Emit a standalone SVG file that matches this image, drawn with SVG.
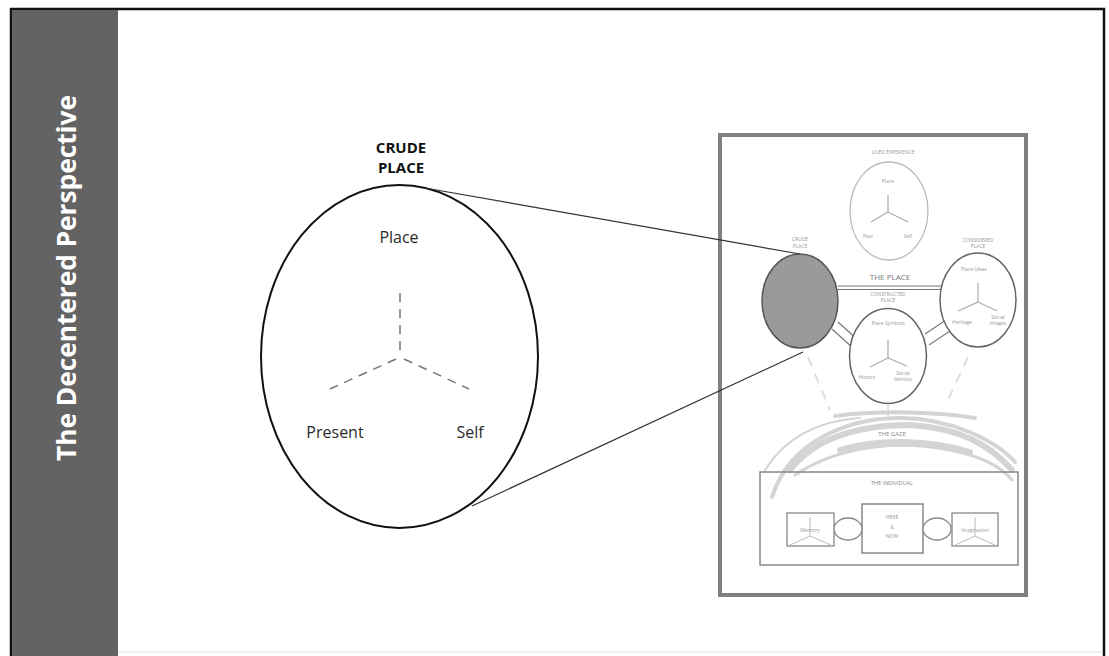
<svg xmlns="http://www.w3.org/2000/svg" width="1109" height="656" viewBox="0 0 1109 656">
<style>
.t{font-family:"Open Sans","Liberation Sans",sans-serif}
.big{font-size:16px;fill:#2a2a2a}
.tiny{font-size:5px;fill:#999;text-anchor:middle}
.tl{stroke:#aaa;stroke-width:1.2;fill:none}
.ov{fill:#fff;stroke:#666;stroke-width:1.5}
.faint{stroke:#ddd;stroke-width:2;fill:none;stroke-dasharray:10,8}
.gaze{stroke:#d4d4d4;fill:none;stroke-linecap:round}
</style>
<rect x="0" y="0" width="1109" height="656" fill="#fff"/>
<g id="frame">
<rect x="11" y="9" width="1093" height="660" fill="#fff" stroke="#111" stroke-width="2.5"/>
<rect x="12" y="10" width="106" height="646" fill="#636363"/>
<line x1="118" y1="652" x2="1103" y2="652" stroke="#ddd" stroke-width="1"/>
<text class="t" x="0" y="0" transform="translate(76,278) rotate(-90)" text-anchor="middle" font-size="27" font-weight="bold" fill="#fff" textLength="366" lengthAdjust="spacingAndGlyphs">The Decentered Perspective</text>
</g>
<g id="crude-place-zoom">
<ellipse cx="399.5" cy="356.5" rx="138.5" ry="171.5" fill="#fff" stroke="#111" stroke-width="2"/>
<text class="t" x="401" y="153" text-anchor="middle" font-size="15" font-weight="bold" fill="#111">CRUDE</text>
<text class="t" x="401" y="173" text-anchor="middle" font-size="15" font-weight="bold" fill="#111">PLACE</text>
<text class="t big" x="399" y="243" text-anchor="middle">Place</text>
<text class="t big" x="335" y="438" text-anchor="middle">Present</text>
<text class="t big" x="470" y="438" text-anchor="middle">Self</text>
<g stroke="#777" stroke-width="1.5" stroke-dasharray="9,7" fill="none">
<line x1="400" y1="293" x2="400" y2="356"/>
<line x1="396" y1="359" x2="330" y2="389"/>
<line x1="404" y1="359" x2="469" y2="389"/>
</g>
</g>
<g id="overview">
<rect x="720" y="135" width="306" height="460" fill="#fff" stroke="#808080" stroke-width="4"/>
<g id="gaze">
<path class="gaze" d="M772 497 C790 440 850 418 900 418 C950 418 995 440 1015 462" stroke-width="4"/>
<path class="gaze" d="M790 470 C820 432 870 425 910 425 C960 428 990 445 1012 470" stroke-width="6"/>
<path class="gaze" d="M835 416 C880 410 940 412 975 418" stroke-width="4"/>
<path class="gaze" d="M795 475 C840 445 900 440 950 450 C980 456 1000 465 1012 480" stroke-width="3"/>
<path class="gaze" d="M840 450 C880 438 930 440 970 452" stroke-width="6"/>
<path class="gaze" d="M765 470 C790 430 830 420 860 418" stroke-width="2"/>
<text class="t" x="892" y="436" text-anchor="middle" font-size="6" fill="#888">THE GAZE</text>
</g>
<g id="faint-links">
<line class="faint" x1="808" y1="357" x2="830" y2="410"/>
<line class="faint" x1="968" y1="357" x2="948" y2="400"/>
<line x1="888" y1="403" x2="888" y2="416" stroke="#ccc" stroke-width="1"/>
</g>
<g id="top-ellipse">
<text class="t tiny" x="893" y="154">LIVED EXPERIENCE</text>
<ellipse cx="889" cy="211" rx="39" ry="49" fill="#fff" stroke="#bbb" stroke-width="1.3"/>
<path class="tl" d="M888 195 V212 L871 222 M888 212 L908 222"/>
<text class="t tiny" x="888" y="183">Place</text>
<text class="t tiny" x="868" y="238">Past</text>
<text class="t tiny" x="908" y="238">Self</text>
</g>
<text class="t" x="890" y="280" text-anchor="middle" font-size="8" fill="#777">THE PLACE</text>
<g id="links" stroke="#777" stroke-width="1.2">
<line x1="838" y1="286" x2="942" y2="286"/>
<line x1="838" y1="289.5" x2="942" y2="289.5"/>
<line x1="832" y1="329" x2="853" y2="348"/>
<line x1="838" y1="322" x2="859" y2="341"/>
<line x1="925" y1="334" x2="946" y2="320"/>
<line x1="929" y1="345" x2="950" y2="331"/>
</g>
<g id="crude-place">
<text class="t tiny" x="800" y="241">CRUDE</text>
<text class="t tiny" x="800" y="248">PLACE</text>
<ellipse cx="800" cy="301" rx="38" ry="47" fill="#9a9a9a" stroke="#555" stroke-width="1.5"/>
</g>
<g id="considered-place">
<text class="t tiny" x="978" y="242">CONSIDERED</text>
<text class="t tiny" x="978" y="248">PLACE</text>
<ellipse class="ov" cx="978" cy="300" rx="38" ry="47"/>
<path class="tl" d="M978 283 V302 L958 311 M978 302 L997 311"/>
<text class="t tiny" x="974" y="271">Place Ideas</text>
<text class="t tiny" x="962" y="324">Heritage</text>
<text class="t tiny" x="998" y="319">Social</text>
<text class="t tiny" x="998" y="325">Images</text>
</g>
<g id="constructed-place">
<text class="t tiny" x="888" y="296">CONSTRUCTED</text>
<text class="t tiny" x="888" y="302">PLACE</text>
<ellipse class="ov" cx="888" cy="356" rx="38.5" ry="47.5"/>
<path class="tl" d="M888 340 V358 L870 367 M888 358 L907 366"/>
<text class="t tiny" x="888" y="325">Place Symbols</text>
<text class="t tiny" x="867" y="379">History</text>
<text class="t tiny" x="903" y="375">Social</text>
<text class="t tiny" x="903" y="381">Identity</text>
</g>
<g id="individual">
<rect x="760" y="472" width="258" height="93" fill="none" stroke="#888" stroke-width="1.5"/>
<text class="t" x="892" y="485" text-anchor="middle" font-size="5.5" fill="#888">THE INDIVIDUAL</text>
<rect x="862" y="504" width="61" height="49" fill="#fff" stroke="#888" stroke-width="1.5"/>
<text class="t tiny" x="892" y="519" fill="#888">HERE</text>
<text class="t tiny" x="892" y="529" fill="#888">&amp;</text>
<text class="t tiny" x="892" y="538" fill="#888">NOW</text>
<ellipse cx="848" cy="529" rx="14" ry="11" fill="#fff" stroke="#888" stroke-width="1.3"/>
<ellipse cx="937" cy="529" rx="14" ry="11" fill="#fff" stroke="#888" stroke-width="1.3"/>
<rect x="787" y="513" width="47" height="33" fill="#fff" stroke="#888" stroke-width="1.3"/>
<path d="M810 517 V536 L788 546 M810 536 L833 546" stroke="#bbb" stroke-width="1" fill="none"/>
<text class="t tiny" x="810" y="532" fill="#bbb">Memory</text>
<rect x="952" y="513" width="46" height="33" fill="#fff" stroke="#888" stroke-width="1.3"/>
<path d="M975 517 V536 L953 546 M975 536 L997 546" stroke="#bbb" stroke-width="1" fill="none"/>
<text class="t tiny" x="975" y="532" fill="#bbb">Imagination</text>
</g>
</g>
<g id="connectors">
<line x1="425" y1="188" x2="800" y2="254" stroke="#333" stroke-width="1.2"/>
<line x1="472" y1="506" x2="803" y2="352" stroke="#333" stroke-width="1.2"/>
</g>
</svg>
